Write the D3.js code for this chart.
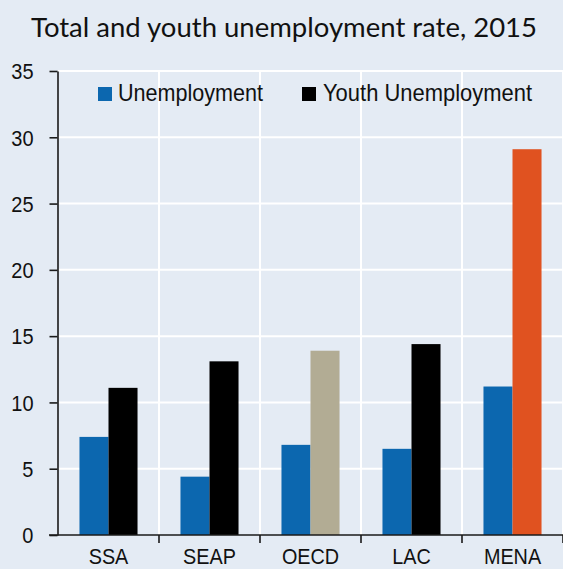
<!DOCTYPE html>
<html>
<head>
<meta charset="utf-8">
<script src="https://cdn.jsdelivr.net/npm/d3@7"></script>
<style>
  html, body { margin: 0; padding: 0; background: #E4EBF4; }
  svg { display: block; }
</style>
</head>
<body>
<svg id="chart" width="563" height="569"></svg>
<script>
// Regions and their 2015 unemployment rates (%)
const regions = ["SSA", "SEAP", "OECD", "LAC", "MENA"];
const unemployment = [7.4, 4.4, 6.8, 6.5, 11.2];
const youthUnemployment = [11.1, 13.1, 13.9, 14.4, 29.1];
const yTicks = [0, 5, 10, 15, 20, 25, 30, 35];
const seriesNames = ["Unemployment", "Youth Unemployment"];

// Styling
const bg = "#E4EBF4";
const blue = "#0C67AF";
const youthColor = { SSA: "#000000", SEAP: "#000000", OECD: "#B2AC94", LAC: "#000000", MENA: "#E05220" };
const axisColor = "#1a1a1a";
const textColor = "#111";
const sans = "'Liberation Sans', Arial, sans-serif";

const svg = d3.select("#chart");
svg.append("rect").attr("width", 563).attr("height", 569).attr("fill", bg);

const plotLeft = 58, plotRight = 563, plotTop = 71, plotBottom = 535;

const x = d3.scaleBand().domain(regions).range([plotLeft, plotRight]).padding(0);
const sub = d3.scaleBand().domain(seriesNames).range([0, x.bandwidth()])
  .paddingInner(0).paddingOuter(0.74);
const y = d3.scaleLinear().domain([0, 35]).range([plotBottom, plotTop]);

// Condense a text element horizontally to the given fraction of its natural width
function narrow(sel, k) {
  sel.each(function () {
    const w = this.getComputedTextLength();
    d3.select(this).attr("textLength", w * k).attr("lengthAdjust", "spacingAndGlyphs");
  });
}

// Title
svg.append("text")
  .attr("x", 284).attr("y", 37)
  .attr("text-anchor", "middle")
  .attr("font-family", "Lato, 'Open Sans', sans-serif")
  .attr("font-size", 26.5)
  .attr("fill", textColor)
  .attr("textLength", 506).attr("lengthAdjust", "spacingAndGlyphs")
  .text("Total and youth unemployment rate, 2015");

// White gridlines
const grid = svg.append("g").attr("stroke", "#ffffff").attr("stroke-width", 2);
grid.selectAll("line.h").data(yTicks.filter(t => t > 0)).join("line")
  .attr("class", "h")
  .attr("x1", plotLeft).attr("x2", plotRight)
  .attr("y1", d => y(d)).attr("y2", d => y(d));
grid.selectAll("line.v").data(regions).join("line")
  .attr("class", "v")
  .attr("x1", d => x(d) + x.bandwidth()).attr("x2", d => x(d) + x.bandwidth())
  .attr("y1", plotTop).attr("y2", plotBottom);

// Bars
const groups = svg.append("g").selectAll("g").data(regions).join("g")
  .attr("transform", d => `translate(${x(d)},0)`);
groups.append("rect")
  .attr("x", sub("Unemployment"))
  .attr("width", sub.bandwidth())
  .attr("y", (d, i) => y(unemployment[i]))
  .attr("height", (d, i) => y(0) - y(unemployment[i]))
  .attr("fill", blue);
groups.append("rect")
  .attr("x", sub("Youth Unemployment"))
  .attr("width", sub.bandwidth())
  .attr("y", (d, i) => y(youthUnemployment[i]))
  .attr("height", (d, i) => y(0) - y(youthUnemployment[i]))
  .attr("fill", d => youthColor[d]);

// Y axis
const yAxis = svg.append("g")
  .attr("transform", `translate(${plotLeft - 0.5},0)`)
  .call(d3.axisLeft(y).tickValues(yTicks).tickSize(8).tickSizeOuter(0).tickPadding(16));
yAxis.select(".domain").attr("stroke", axisColor).attr("stroke-width", 1.6);
yAxis.selectAll(".tick line").attr("stroke", axisColor).attr("stroke-width", 1.6);
yAxis.selectAll(".tick text")
  .attr("font-family", sans)
  .attr("font-size", 21.5)
  .attr("fill", textColor)
  .attr("dy", "0.36em")
  .call(narrow, 0.93);

// X axis: baseline plus ticks at the category boundaries
const xAxis = svg.append("g");
xAxis.append("line")
  .attr("x1", plotLeft - 9).attr("x2", plotRight)
  .attr("y1", y(0)).attr("y2", y(0))
  .attr("stroke", axisColor).attr("stroke-width", 1.6);
xAxis.selectAll("line.tk").data(regions).join("line")
  .attr("class", "tk")
  .attr("x1", d => x(d) + x.bandwidth()).attr("x2", d => x(d) + x.bandwidth())
  .attr("y1", y(0)).attr("y2", y(0) + 8)
  .attr("stroke", axisColor).attr("stroke-width", 1.6);
xAxis.selectAll("text").data(regions).join("text")
  .attr("x", d => x(d) + x.bandwidth() / 2)
  .attr("y", 564)
  .attr("text-anchor", "middle")
  .attr("font-family", sans)
  .attr("font-size", 22)
  .attr("fill", textColor)
  .text(d => d)
  .call(narrow, 0.9);

// Legend
const legendItems = [
  { name: seriesNames[0], color: blue, sx: 98, tx: 118, w: 145 },
  { name: seriesNames[1], color: "#000000", sx: 302, tx: 323, w: 209 }
];
const legend = svg.append("g");
legend.selectAll("rect").data(legendItems).join("rect")
  .attr("x", d => d.sx).attr("y", 87)
  .attr("width", 14).attr("height", 14)
  .attr("fill", d => d.color);
legend.selectAll("text").data(legendItems).join("text")
  .attr("x", d => d.tx).attr("y", 101)
  .attr("font-family", sans)
  .attr("font-size", 24)
  .attr("fill", textColor)
  .attr("textLength", d => d.w).attr("lengthAdjust", "spacingAndGlyphs")
  .text(d => d.name);
</script>
</body>
</html>
